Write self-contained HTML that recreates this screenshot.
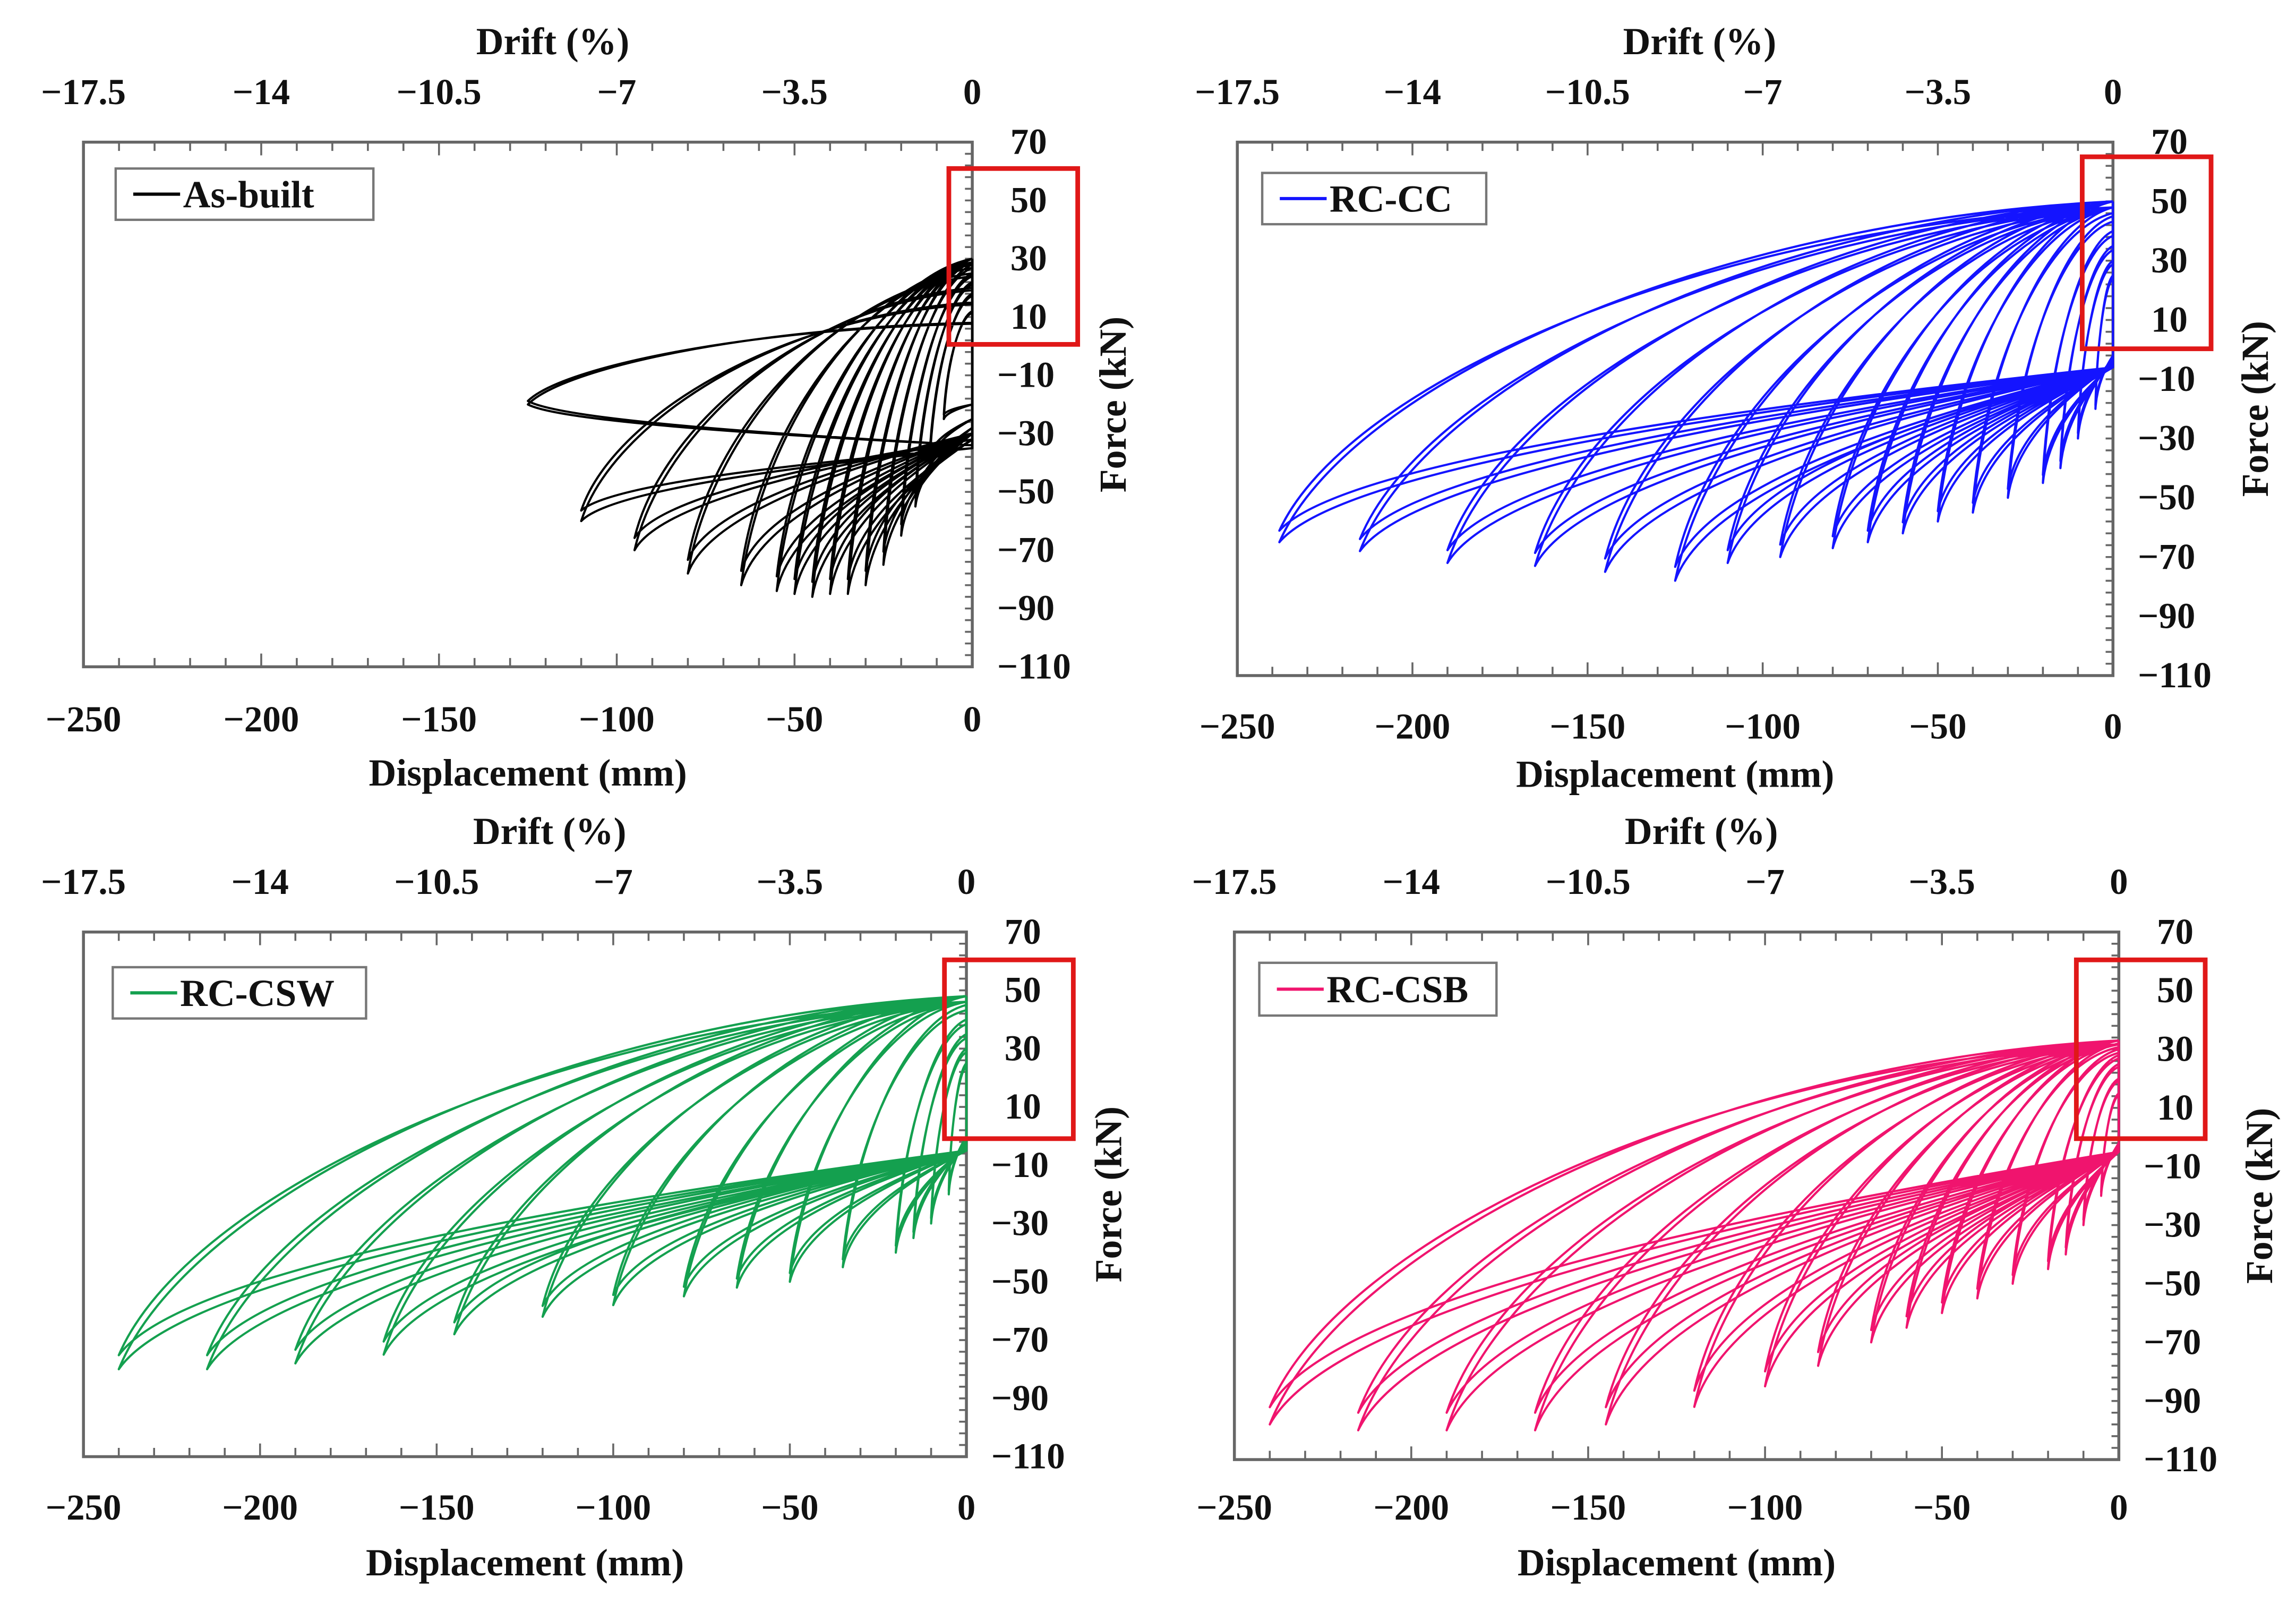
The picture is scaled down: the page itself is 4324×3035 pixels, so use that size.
<!DOCTYPE html>
<html><head><meta charset="utf-8"><style>
html,body{margin:0;padding:0;background:#fff;}
svg{display:block;}
text{font-family:"Liberation Serif",serif;font-weight:bold;fill:#111;}
</style></head><body>
<svg id="chart" width="4324" height="3035" viewBox="0 0 1568 1100" preserveAspectRatio="none" xmlns="http://www.w3.org/2000/svg"></svg>
<script>
// ---- data ----
const xTicks = [-250,-200,-150,-100,-50,0];
const driftTicks = ["\u221217.5","\u221214","\u221210.5","\u22127","\u22123.5","0"];
const yTicks = [70,50,30,10,-10,-30,-50,-70,-90,-110];

const abAmps = [8,12,16,20,25,30,35,40,45,50,55,65,80,95,110,125];
const abNeg  = [-25,-40,-55,-65,-75,-82,-85,-85,-86,-85,-84,-82,-78,-70,-60,-20];
const abPos  = [12,18,22,25,28,30,30,30,30,30,30,28,25,20,15,8];
const abRet  = [-20,-25,-28,-30,-30,-30,-32,-30,-30,-30,-30,-30,-30,-32,-35,-34];

const ccAmps = [5,10,15,20,30,40,50,60,70,80,95,110,125,145,165,190,215,238];
const ccNeg  = [-20,-30,-40,-45,-50,-55,-58,-62,-65,-67,-70,-72,-78,-75,-73,-72,-68,-65];
const ccPos  = [25,30,35,40,45,48,50,50,50,50,50,50,50,50,50,50,50,50];
const ccRet  = [-2,-3,-4,-5,-5,-6,-6,-6,-6,-6,-6,-6,-6,-6,-6,-6,-6,-6];

const cswAmps = [5,10,15,20,35,50,65,80,100,120,145,165,190,215,240];
const cswNeg  = [-20,-30,-35,-40,-45,-50,-52,-55,-58,-62,-68,-75,-78,-80,-80];
const cswPos  = [25,30,35,40,45,48,48,48,48,48,48,48,48,48,48];
const cswRet  = [0,-2,-3,-4,-5,-5,-5,-5,-5,-5,-5,-5,-5,-5,-5];

const csbAmps = [5,10,15,20,30,40,50,60,70,85,100,120,145,165,190,215,240];
const csbNeg  = [-20,-30,-40,-45,-50,-55,-60,-65,-70,-78,-85,-92,-98,-100,-100,-100,-98];
const csbPos  = [15,20,25,28,30,32,33,33,33,33,33,33,33,33,33,33,33];
const csbRet  = [-2,-3,-4,-5,-5,-5,-5,-5,-5,-5,-5,-5,-5,-5,-5,-5,-5];

const NS="http://www.w3.org/2000/svg";
const svg=document.getElementById('chart');
function mk(tag,attrs,parent){const e=document.createElementNS(NS,tag);for(const k in attrs)e.setAttribute(k,attrs[k]);(parent||svg).appendChild(e);return e;}

const panels=[
 {name:'as-built',x0:57,x1:664,yT:97,yB:455,top:62,drift:28,bot:490,bt:527,ft:760,color:'#000',label:'As-built',amps:abAmps,neg:abNeg,pos:abPos,ret:abRet,
  leg:[79,115,176,35],red:[648,115,88,120]},
 {name:'rc-cc',x0:845,x1:1443,yT:97,yB:461,top:62,drift:28,bot:495,bt:528,ft:1540,color:'#1414ff',label:'RC-CC',amps:ccAmps,neg:ccNeg,pos:ccPos,ret:ccRet,
  leg:[862,118,153,35],red:[1422,107,88,131]},
 {name:'rc-csw',x0:57,x1:660,yT:636,yB:994,top:601,drift:567,bot:1028,bt:1066,ft:757,color:'#14a04f',label:'RC-CSW',amps:cswAmps,neg:cswNeg,pos:cswPos,ret:cswRet,
  leg:[77,660,173,35],red:[645,655,88,122]},
 {name:'rc-csb',x0:843,x1:1447,yT:636,yB:996,top:601,drift:567,bot:1028,bt:1066,ft:1543,color:'#f0146e',label:'RC-CSB',amps:csbAmps,neg:csbNeg,pos:csbPos,ret:csbRet,
  leg:[860,657,162,36],red:[1418,655,88,122]}
];

panels.forEach(p=>{
  const g=mk('g',{});
  
  
  const X=v=>p.x0+(v+250)/250*(p.x1-p.x0);
  const Y=v=>p.yT+(70-v)/180*(p.yB-p.yT);
  const fr=mk('rect',{x:p.x0,y:p.yT,width:p.x1-p.x0,height:p.yB-p.yT,fill:'none',stroke:'#666','stroke-width':2},g);
  
  
  let tk='';
  for(let v=-250;v<=0;v+=10){const x=X(v);const L=(v%50===0)?9:6;tk+=`M${x} ${p.yB}v${-L}M${x} ${p.yT}v${L}`;}
  for(let v=-110;v<=70;v+=4){const y=Y(v);tk+=`M${p.x1} ${y}h-5`;}
  const tp=mk('path',{d:tk,stroke:'#666','stroke-width':1.3,fill:'none'},g);
  
  
  xTicks.forEach(v=>{const t=mk('text',{x:X(v),y:p.bot+9,'text-anchor':'middle','font-size':25},g);t.textContent=v<0?'\u2212'+(-v):v;
    
    });
  driftTicks.forEach((s,i)=>{const t=mk('text',{x:X(xTicks[i]),y:p.top+9,'text-anchor':'middle','font-size':25},g);t.textContent=s;
    
    });
  yTicks.forEach(v=>{const t=mk('text',{x:p.x1+(v<0?17:26),y:Y(v)+8,'text-anchor':'start','font-size':25},g);t.textContent=v<0?'\u2212'+(-v):v;
    
    });
  const xt=mk('text',{x:(p.x0+p.x1)/2,y:p.bt+9,'text-anchor':'middle','font-size':26},g);xt.textContent='Displacement (mm)';
  
  
  const dt=mk('text',{x:X(-118),y:p.drift+9,'text-anchor':'middle','font-size':26},g);dt.textContent='Drift (%)';
  
  
  const cy=(p.yT+p.yB)/2;
  const ft=mk('text',{x:p.ft,y:cy,'text-anchor':'middle','font-size':26,transform:`rotate(-90 ${p.ft} ${cy})`,'dominant-baseline':'central'},g);ft.textContent='Force (kN)';
  
  
  let d='';
  p.amps.forEach((a,i)=>{
    for(let c=0;c<2;c++){
      const f=c?0.94:1;
      const n=p.neg[i]*f, po=p.pos[i]*(c?0.96:1), r=p.ret[i];
      const D=po-n;
      d+=`M${X(0)} ${Y(po)}C${X(-a*0.5)} ${Y(po-0.06*D)} ${X(-a*0.92)} ${Y(n+0.45*D)} ${X(-a)} ${Y(n)}`;
      const R=r-n;
      d+=`C${X(-a*0.92)} ${Y(n+0.45*R)} ${X(-a*0.4)} ${Y(r-0.22*R)} ${X(0)} ${Y(r)}L${X(0)} ${Y(po)}`;
    }
  });
  const lp=mk('path',{d:d,fill:'none',stroke:p.color,'stroke-width':1.5,'stroke-linejoin':'round'},g);
  
  
  const lg=mk('g',{},g);
  
  
  const [lx,ly,lw,lh]=p.leg;
  mk('rect',{x:lx,y:ly,width:lw,height:lh,fill:'#fff',stroke:'#777','stroke-width':1.6},lg);
  mk('line',{x1:lx+12,x2:lx+44,y1:ly+lh/2,y2:ly+lh/2,stroke:p.color,'stroke-width':2.2},lg);
  const lt=mk('text',{x:lx+46,y:ly+lh/2+9,'font-size':26},lg);lt.textContent=p.label;
  
  
  const rb=mk('rect',{x:p.red[0],y:p.red[1],width:p.red[2],height:p.red[3],fill:'none',stroke:'#e01818','stroke-width':3.2},g);
  
  
});
</script>
</body></html>
